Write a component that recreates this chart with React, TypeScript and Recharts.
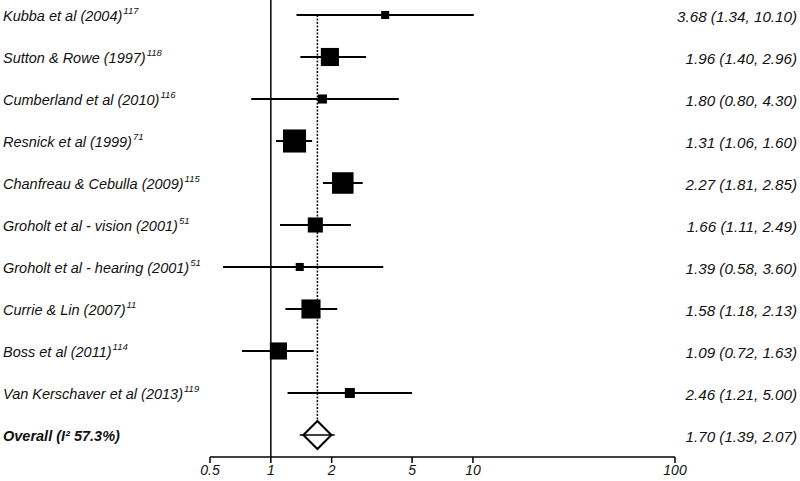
import React from "react";
import {
  ComposedChart,
  Scatter,
  XAxis,
  YAxis,
  ReferenceLine,
} from "recharts";

const studies = [
  "Kubba et al (2004)",
  "Sutton & Rowe (1997)",
  "Cumberland et al (2010)",
  "Resnick et al (1999)",
  "Chanfreau & Cebulla (2009)",
  "Groholt et al - vision (2001)",
  "Groholt et al - hearing (2001)",
  "Currie & Lin (2007)",
  "Boss et al (2011)",
  "Van Kerschaver et al (2013)",
];
const refs = ["117", "118", "116", "71", "115", "51", "51", "11", "114", "119"];
const estimates = [3.68, 1.96, 1.8, 1.31, 2.27, 1.66, 1.39, 1.58, 1.09, 2.46];
const lower = [1.34, 1.4, 0.8, 1.06, 1.81, 1.11, 0.58, 1.18, 0.72, 1.21];
const upper = [10.1, 2.96, 4.3, 1.6, 2.85, 2.49, 3.6, 2.13, 1.63, 5.0];
const weights = [2.6, 13.1, 3.3, 21.3, 18.5, 9.1, 2.6, 14.6, 11.7, 4.0];

const overallLabel = "Overall (I² 57.3%)";
const overallEst = 1.7;
const overallLow = 1.39;
const overallHigh = 2.07;

const xTicks = [0.5, 1, 2, 5, 10, 100];

const FONT = '"Liberation Sans", Arial, Helvetica, sans-serif';
const OVERALL_ROW = studies.length;
const rowTicks = Array.from({ length: studies.length + 1 }, (_, i) => i);

const studyData = studies.map((s, i) => ({ x: estimates[i], y: i, w: weights[i] }));
const overallData = [{ x: overallEst, y: OVERALL_ROW }];

const fmt = (e: number, l: number, h: number) =>
  `${e.toFixed(2)} (${l.toFixed(2)}, ${h.toFixed(2)})`;

const renderLeftTick = (props: any) => {
  const { y, payload } = props;
  const i = payload.value;
  if (i === OVERALL_ROW) {
    return (
      <text key={`l${i}`} x={3} y={y + 6} textAnchor="start" fontFamily={FONT} fontSize={14.5} fontStyle="italic" fontWeight="bold" fill="#111">
        {overallLabel}
      </text>
    );
  }
  return (
    <text key={`l${i}`} x={3} y={y + 6} textAnchor="start" fontFamily={FONT} fontSize={14.5} fontStyle="italic" fill="#111">
      {studies[i]}
      <tspan fontSize={9.5} dx={1} dy={-7}>{refs[i]}</tspan>
    </text>
  );
};

const renderRightTick = (props: any) => {
  const { y, payload } = props;
  const i = payload.value;
  const txt =
    i === OVERALL_ROW
      ? fmt(overallEst, overallLow, overallHigh)
      : fmt(estimates[i], lower[i], upper[i]);
  return (
    <text key={`r${i}`} x={797} y={y + 7} textAnchor="end" fontFamily={FONT} fontSize={15.2} fontStyle="italic" fill="#111">
      {txt}
    </text>
  );
};

const SquareShape = (props: any) => {
  const { cx, cy, payload } = props;
  const side = 5 * Math.sqrt(payload.w);
  return <rect x={cx - side / 2} y={cy - side / 2} width={side} height={side} fill="#000" />;
};

const DiamondShape = (props: any) => {
  const { cx, cy } = props;
  const h = 14;
  return (
    <polygon
      points={`${cx - h},${cy} ${cx},${cy - h} ${cx + h},${cy} ${cx},${cy + h}`}
      fill="none"
      stroke="#000"
      strokeWidth={2}
    />
  );
};

export default function App() {
  return (
    <div style={{ position: "absolute", left: 0, top: 0, width: 800, height: 481, background: "#fff" }}>
      <ComposedChart
        width={800}
        height={481}
        margin={{ top: 0, right: 124, bottom: 0, left: 209 }}
      >
        <XAxis
          type="number"
          dataKey="x"
          scale="log"
          domain={[0.5, 100]}
          ticks={xTicks}
          allowDataOverflow
          interval={0}
          height={24}
          tickSize={6}
          tickFormatter={(v: number) => String(v)}
          axisLine={{ stroke: "#000", strokeWidth: 1.5 }}
          tickLine={{ stroke: "#000", strokeWidth: 1.5 }}
          tick={{ fill: "#111", fontSize: 14, fontStyle: "italic", fontFamily: FONT }}
        />
        <YAxis
          yAxisId={0}
          type="number"
          dataKey="y"
          domain={[-0.357, 10.524]}
          reversed
          allowDataOverflow
          ticks={rowTicks}
          interval={0}
          width={1}
          axisLine={false}
          tickLine={false}
          tick={renderLeftTick}
        />
        <YAxis
          yAxisId="r"
          orientation="right"
          type="number"
          dataKey="y"
          domain={[-0.357, 10.524]}
          reversed
          allowDataOverflow
          ticks={rowTicks}
          interval={0}
          width={1}
          axisLine={false}
          tickLine={false}
          tick={renderRightTick}
        />
        <ReferenceLine x={1} stroke="#000" strokeWidth={1.5} />
        <ReferenceLine
          segment={[
            { x: overallEst, y: 0 },
            { x: overallEst, y: OVERALL_ROW - 1 / 3 },
          ]}
          stroke="#000"
          strokeWidth={1.5}
          strokeDasharray="2 1.5"
        />
        {studies.map((s, i) => (
          <ReferenceLine
            key={s}
            segment={[
              { x: lower[i], y: i },
              { x: upper[i], y: i },
            ]}
            stroke="#000"
            strokeWidth={2}
          />
        ))}
        <ReferenceLine
          segment={[
            { x: overallLow, y: OVERALL_ROW },
            { x: overallHigh, y: OVERALL_ROW },
          ]}
          stroke="#000"
          strokeWidth={1.5}
        />
        <Scatter
          data={studyData}
          dataKey="y"
          shape={<SquareShape />}
          isAnimationActive={false}
        />
        <Scatter
          data={overallData}
          dataKey="y"
          shape={<DiamondShape />}
          isAnimationActive={false}
        />
      </ComposedChart>
    </div>
  );
}
